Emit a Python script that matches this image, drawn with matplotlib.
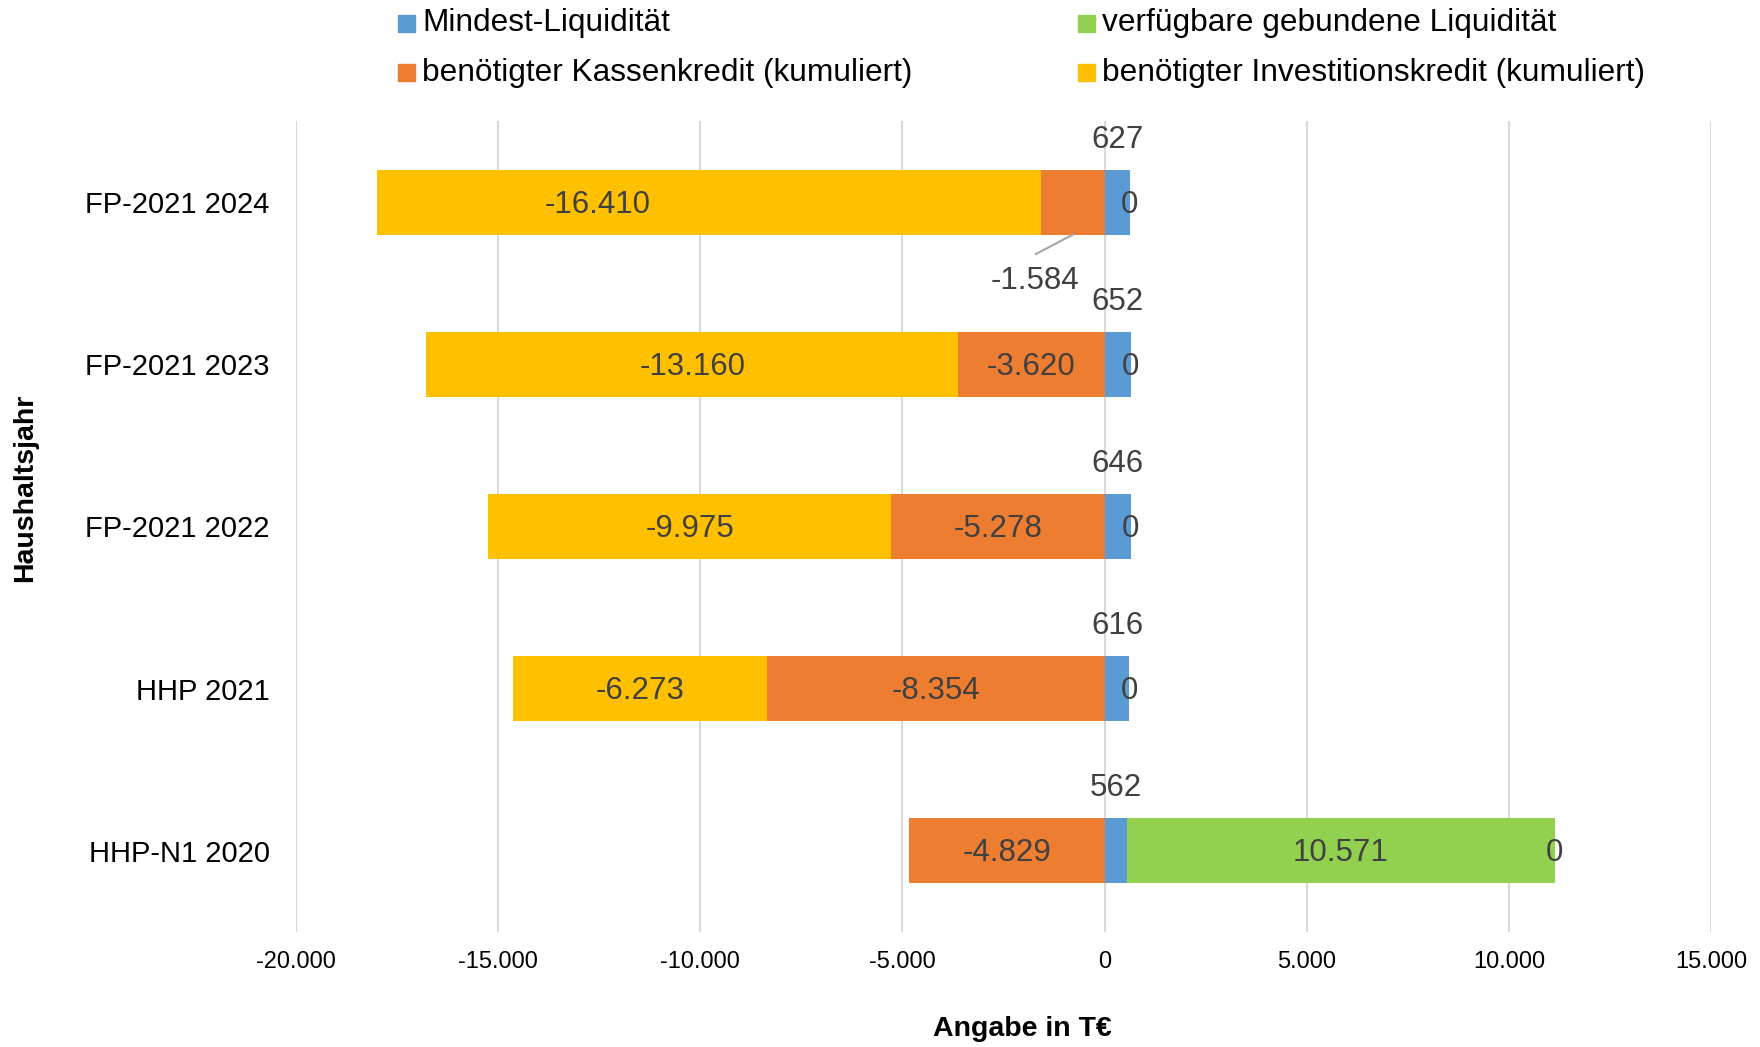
import numpy as np
import matplotlib.pyplot as plt
from matplotlib.patches import Rectangle

plt.rcParams['font.family'] = ['Liberation Sans', 'DejaVu Sans']

# ── Data (T€), bottom row first ──────────────────────────────────────────────
years = ["HHP-N1 2020", "HHP 2021", "FP-2021 2022", "FP-2021 2023", "FP-2021 2024"]
mindest = [562, 616, 646, 652, 627]
gebunden = [10571, 0, 0, 0, 0]
kassenkredit = [-4829, -8354, -5278, -3620, -1584]
investkredit = [0, -6273, -9975, -13160, -16410]

series_names = ["Mindest-Liquidität", "verfügbare gebundene Liquidität",
                "benötigter Kassenkredit (kumuliert)",
                "benötigter Investitionskredit (kumuliert)"]
C_BLUE, C_ORANGE, C_GREEN, C_YELLOW = "#5B9BD5", "#ED7D31", "#92D050", "#FFC000"
TXT = "#404040"
W, H = 1760, 1047

def fmt(v):
    return f"{v:,.0f}".replace(",", ".")

y = np.arange(len(years))
mindest = np.array(mindest)
gebunden = np.array(gebunden)
kassenkredit = np.array(kassenkredit)
investkredit = np.array(investkredit)

fig = plt.figure(figsize=(W / 100, H / 100), dpi=100)
ax = fig.add_axes([296 / W, 1 - 932 / H, (1711 - 296) / W, (932 - 121) / H])

h = 0.40
ax.barh(y, mindest, height=h, color=C_BLUE, zorder=3)
ax.barh(y, gebunden, left=mindest, height=h, color=C_GREEN, zorder=3)
ax.barh(y, kassenkredit, height=h, color=C_ORANGE, zorder=3)
ax.barh(y, investkredit, left=kassenkredit, height=h, color=C_YELLOW, zorder=3)

lab_fs = 22.5
dy = -0.015  # optical centering of digit labels
for i in y:
    # Mindest-Liquidität above the bar
    ax.text(mindest[i] / 2, i + 0.385, fmt(mindest[i]), ha="center", va="center",
            fontsize=lab_fs, color=TXT, zorder=5)
    # zero-valued series sits at the positive end of the stack
    pos_end = mindest[i] + gebunden[i]
    ax.text(pos_end, i + dy, "0", ha="center", va="center",
            fontsize=lab_fs, color=TXT, zorder=5)
    if gebunden[i] != 0:
        ax.text(mindest[i] + gebunden[i] / 2, i + dy, fmt(gebunden[i]), ha="center",
                va="center", fontsize=lab_fs, color=TXT, zorder=5)
    if investkredit[i] != 0:
        xm = kassenkredit[i] + investkredit[i] / 2
        if kassenkredit[i] > -2000:
            # label pushed left, towards the middle of the long segment
            xm -= 2760
        ax.text(xm, i + dy, fmt(investkredit[i]),
                ha="center", va="center", fontsize=lab_fs, color=TXT, zorder=5)
    if kassenkredit[i] > -2000:
        # short segment: label below with leader line
        ax.plot([-780, -1700], [i - h / 2, i - 0.32], color="#A6A6A6", lw=1.5, zorder=4)
        ax.text(-1720, i - 0.485, fmt(kassenkredit[i]), ha="center", va="center",
                fontsize=lab_fs, color=TXT, zorder=5)
    else:
        ax.text(kassenkredit[i] / 2, i + dy, fmt(kassenkredit[i]), ha="center",
                va="center", fontsize=lab_fs, color=TXT, zorder=5)

ticks = np.arange(-20000, 15001, 5000)
ax.set_xlim(-20000, 15000)
ax.set_ylim(-0.5, 4.5)
ax.set_xticks(ticks)
ax.set_xticklabels([fmt(v) for v in ticks])
ax.set_yticks(y)
ax.set_yticklabels(years)
ax.tick_params(axis="x", labelsize=17, length=0, pad=14, labelcolor="black")
ax.tick_params(axis="y", labelsize=21, length=0, pad=19, labelcolor="black")
ax.grid(axis="x", color="#D9D9D9", lw=1.5, zorder=0)
for s in ax.spines.values():
    s.set_visible(False)

fig.text(1022 / W, 1 - 1029 / H, "Angabe in T€", fontsize=20.5, fontweight="bold",
         ha="center", va="center")
fig.text(25 / W, 1 - 488 / H, "Haushaltsjahr", fontsize=20.5, fontweight="bold",
         ha="center", va="center", rotation=90)

# legend, two columns
leg_items = [(series_names[0], C_BLUE, 398, 23.5),
             (series_names[1], C_GREEN, 1078, 23.5),
             (series_names[2], C_ORANGE, 398, 72.5),
             (series_names[3], C_YELLOW, 1078, 72.5)]
for name, col, x0, yc in leg_items:
    fig.patches.append(Rectangle((x0 / W, 1 - (yc + 8.5) / H), 17 / W, 17 / H,
                                 transform=fig.transFigure, color=col))
    fig.text((x0 + 24) / W, 1 - yc / H, name, fontsize=22.8, ha="left",
             va="center")

fig.savefig("out.png", dpi=100, facecolor="white")
